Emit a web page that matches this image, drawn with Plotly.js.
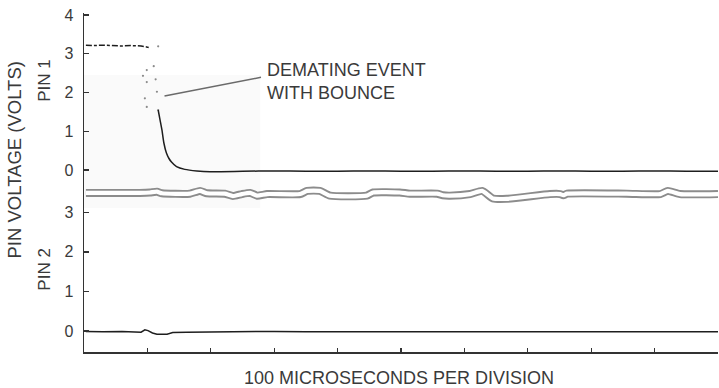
<!DOCTYPE html>
<html>
<head>
<meta charset="utf-8">
<script src="https://cdn.plot.ly/plotly-3.0.1.min.js"></script>
<style>html,body{margin:0;padding:0;background:#fff;}#chart{width:719px;height:388px;}</style>
</head>
<body>
<div id="chart"></div>
<script>
// Time in divisions (100 microseconds per division)
const pin1PlateauX = [0.03, 0.15, 0.3, 0.45, 0.6, 0.75, 0.9, 1.0, 1.05];
const pin1PlateauY = [3.22, 3.21, 3.22, 3.21, 3.20, 3.21, 3.20, 3.17, 3.15];

const pin1BounceX = [1.17, 0.99, 1.10, 0.93, 0.99, 1.13, 1.15, 0.99, 0.96, 1.17];
const pin1BounceY = [3.19, 2.58, 2.68, 2.43, 2.27, 2.34, 2.02, 1.63, 1.85, 1.55];

const pin1DecayX = [1.17, 1.20, 1.23, 1.26, 1.30, 1.34, 1.38, 1.46, 1.59, 1.78, 1.99, 2.5, 3.0, 3.5, 4.0, 4.5, 5.0, 5.5, 6.0, 6.5, 7.0, 7.5, 8.0, 8.5, 9.0, 9.5, 10.0];
const pin1DecayY = [1.55, 1.29, 1.03, 0.70, 0.44, 0.30, 0.21, 0.09, 0.02, -0.02, -0.04, -0.03, -0.02, -0.03, -0.03, -0.02, -0.03, -0.03, -0.02, -0.03, -0.03, -0.02, -0.03, -0.03, -0.02, -0.03, -0.03];

const pin2LowX = [0.03, 0.3, 0.6, 0.9, 0.96, 1.01, 1.08, 1.15, 1.31, 1.40, 1.62, 2.0, 2.5, 3.0, 3.5, 4.0, 4.5, 5.0, 5.5, 6.0, 6.5, 7.0, 7.5, 8.0, 8.5, 9.0, 9.5, 10.0];
const pin2LowY = [-0.01, -0.02, -0.01, -0.03, 0.03, 0.01, -0.05, -0.08, -0.08, -0.04, -0.03, -0.02, -0.02, -0.01, -0.02, -0.02, -0.01, -0.02, -0.02, -0.01, -0.02, -0.02, -0.01, -0.02, -0.02, -0.01, -0.02, -0.02];

const pin2HighX = [0.03, 0.88, 1.04, 1.15, 1.23, 1.67, 1.83, 1.94, 2.22, 2.35, 2.49, 2.62, 2.73, 2.89, 3.41, 3.52, 3.72, 3.88, 4.46, 4.56, 4.98, 5.14, 5.57, 5.66, 5.77, 6.09, 6.28, 6.45, 6.67, 7.35, 7.51, 7.56, 7.62, 8.56, 9.09, 9.21, 9.40, 10.0];
const pin2HighY = [3.49, 3.49, 3.50, 3.52, 3.48, 3.47, 3.54, 3.48, 3.47, 3.41, 3.46, 3.49, 3.42, 3.46, 3.46, 3.54, 3.54, 3.42, 3.42, 3.50, 3.50, 3.47, 3.47, 3.43, 3.42, 3.46, 3.54, 3.35, 3.34, 3.46, 3.46, 3.43, 3.47, 3.47, 3.46, 3.54, 3.46, 3.46];

const yTicks1 = [0, 1, 2, 3, 4];
const yTicks2 = [0, 1, 2, 3];
const xTicks = [0, 1, 2, 3, 4, 5, 6, 7, 8, 9, 10];

const traceColor = '#1e1e1e';
const traces = [
  {x: pin1PlateauX, y: pin1PlateauY, xaxis: 'x', yaxis: 'y', mode: 'lines', line: {color: traceColor, width: 1.5, dash: '6px,2px,3px,2px'}, hoverinfo: 'skip'},
  {x: pin1BounceX, y: pin1BounceY, xaxis: 'x', yaxis: 'y', mode: 'markers', marker: {color: '#8a8a8a', size: 2.2}, hoverinfo: 'skip'},
  {x: pin1DecayX, y: pin1DecayY, xaxis: 'x', yaxis: 'y', mode: 'lines', line: {color: traceColor, width: 1.5, shape: 'spline', smoothing: 0.6}, hoverinfo: 'skip'},
  {x: pin2HighX, y: pin2HighY, xaxis: 'x', yaxis: 'y2', mode: 'lines', line: {color: '#8c8c8c', width: 8, shape: 'spline', smoothing: 0.5}, hoverinfo: 'skip'},
  {x: pin2HighX, y: pin2HighY, xaxis: 'x', yaxis: 'y2', mode: 'lines', line: {color: '#ffffff', width: 4.2, shape: 'spline', smoothing: 0.5}, hoverinfo: 'skip'},
  {x: pin2LowX, y: pin2LowY, xaxis: 'x', yaxis: 'y2', mode: 'lines', line: {color: traceColor, width: 1.5}, hoverinfo: 'skip'}
];

const axisColor = '#333';
const fam = 'Liberation Sans, Arial, sans-serif';
const tickFont = {family: fam, size: 16, color: '#3a3a3a'};
const textFont = {family: fam, size: 18, color: '#3a3a3a'};
const pinFont = {family: fam, size: 17, color: '#3a3a3a'};

const layout = {
  width: 719, height: 388,
  margin: {l: 84, r: 1, t: 13, b: 36},
  paper_bgcolor: '#fff', plot_bgcolor: 'rgba(0,0,0,0)',
  showlegend: false,
  xaxis: {
    range: [0, 10], anchor: 'y2', tickvals: xTicks, showticklabels: false,
    ticks: 'inside', ticklen: 4, tickwidth: 1.3, tickcolor: axisColor,
    showline: true, linecolor: axisColor, linewidth: 1.5, showgrid: false, zeroline: false
  },
  yaxis: {
    domain: [0.5044, 1], range: [-0.28, 4.05], anchor: 'x', tickvals: yTicks1,
    ticks: 'inside', ticklen: 5, tickwidth: 1.3, tickcolor: axisColor, ticklabelstandoff: 6,
    tickfont: tickFont, showline: true, linecolor: axisColor, linewidth: 1.5,
    showgrid: false, zeroline: false
  },
  yaxis2: {
    domain: [0, 0.5044], range: [-0.53, 3.79], anchor: 'x', tickvals: yTicks2,
    ticks: 'inside', ticklen: 5, tickwidth: 1.3, tickcolor: axisColor, ticklabelstandoff: 6,
    tickfont: tickFont, showline: true, linecolor: axisColor, linewidth: 1.5,
    showgrid: false, zeroline: false
  },
  shapes: [
    {type: 'rect', xref: 'x', yref: 'paper', x0: 0, x1: 2.78, y0: 0.425, y1: 0.817, fillcolor: '#fafafa', line: {width: 0}, layer: 'below'}
  ],
  annotations: [
    {text: 'DEMATING EVENT<br>WITH BOUNCE', xref: 'paper', yref: 'paper', x: 0.2855, y: 0.868, xanchor: 'left', yanchor: 'top', align: 'left', showarrow: false, font: textFont},
    {text: '', xref: 'x', yref: 'y', x: 1.27, y: 1.91, ax: 98, ay: -19, showarrow: true, arrowhead: 0, arrowwidth: 1.5, arrowcolor: '#6a6a6a', standoff: 0},
    {text: '100 MICROSECONDS PER DIVISION', xref: 'paper', yref: 'paper', x: 0.497, y: -0.077, xanchor: 'center', yanchor: 'middle', showarrow: false, font: textFont},
    {text: 'PIN VOLTAGE (VOLTS)', xref: 'paper', yref: 'paper', x: -0.1104, y: 0.565, xanchor: 'center', yanchor: 'middle', textangle: -90, showarrow: false, font: {family: fam, size: 18.5, color: '#3a3a3a'}},
    {text: 'PIN 1', xref: 'paper', yref: 'paper', x: -0.0615, y: 0.8, xanchor: 'center', yanchor: 'middle', textangle: -90, showarrow: false, font: pinFont},
    {text: 'PIN 2', xref: 'paper', yref: 'paper', x: -0.0615, y: 0.243, xanchor: 'center', yanchor: 'middle', textangle: -90, showarrow: false, font: pinFont}
  ]
};

Plotly.newPlot('chart', traces, layout, {staticPlot: true, displayModeBar: false});
</script>
</body>
</html>
